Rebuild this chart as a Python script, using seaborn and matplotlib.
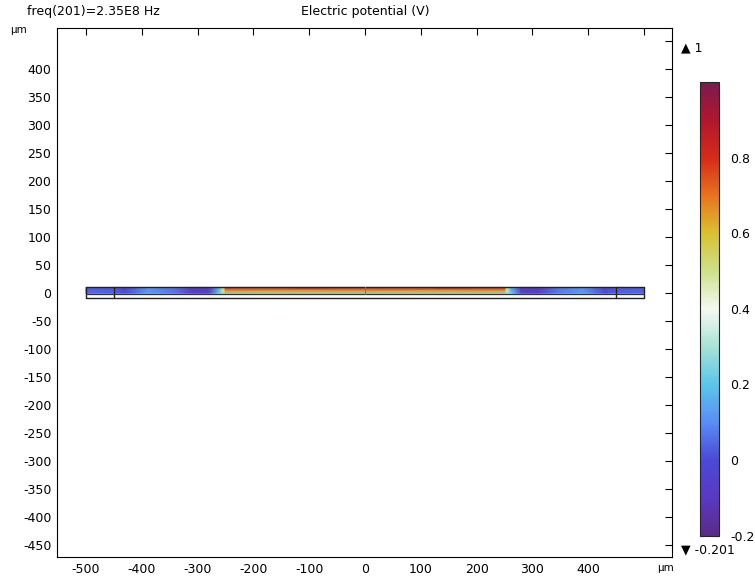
"""
Electric potential in a thin layer, COMSOL-like 2D surface plot
"""

import matplotlib
matplotlib.use("Agg")
import matplotlib.pyplot as plt
import seaborn as sns
import numpy as np

sns.set_style("white")
plt.rcParams['font.family'] = ['DejaVu Sans']
plt.rcParams['font.size'] = 9
plt.rcParams['text.color'] = 'black'
plt.rcParams['xtick.color'] = 'black'
plt.rcParams['ytick.color'] = 'black'

# Data
x_cols = [-500, -450, -430, -390, -345, -310, -280, -262, -254, -250,
          0, 250, 254, 262, 280, 310, 345, 390, 430, 450, 500]
pot_top = [0.03, 0.02, -0.02, 0.11, 0.06, -0.08, -0.09, 0.15, 0.55, 0.86,
           0.86, 0.86, 0.55, 0.15, -0.09, -0.08, 0.06, 0.11, -0.02, 0.02, 0.03]
pot_mid = [0.04, 0.03, 0.0, 0.12, 0.07, -0.07, -0.06, 0.18, 0.45, 0.64,
           0.64, 0.64, 0.45, 0.18, -0.06, -0.07, 0.07, 0.12, 0.0, 0.03, 0.04]
pot_bottom = [0.05, 0.04, 0.01, 0.13, 0.08, -0.05, -0.03, 0.22, 0.26, 0.24,
              0.24, 0.24, 0.26, 0.22, -0.03, -0.05, 0.08, 0.13, 0.01, 0.04, 0.05]
layer_y = [-1, 4.5, 10]      # potential layer (um): bottom, middle, top
substrate_y = [-8, -1]       # lower layer, no data (um)
x_bounds = [-500, 500]
inner_lines = [-450, 450]

cmin, cmax = -0.201, 1.0
cbar_ticks = [-0.2, 0, 0.2, 0.4, 0.6, 0.8]
x_ticks = list(range(-500, 501, 100))
y_ticks = list(range(-450, 451, 50))

# COMSOL-ish rainbow light colormap
cmap = sns.blend_palette(
    ['#5b2a88', '#5a39c2', '#4a4ad8', '#5a8cf6', '#5cc6ea', '#a6e3d6',
     '#f5f9f2', '#cde08a', '#d8c232', '#e8741e', '#d42c19', '#b1172c', '#7b1a4e'],
    as_cmap=True)

fig = plt.figure(figsize=(7.55, 5.80), dpi=100)
ax = fig.add_axes([57 / 755, 1 - 557 / 580, 615 / 755, 529 / 580])

X, Y = np.meshgrid(x_cols, layer_y)
C = np.array([pot_bottom, pot_mid, pot_top])
mesh = ax.pcolormesh(X, Y, C, shading='gouraud', cmap=cmap, vmin=cmin, vmax=cmax)

# geometry outlines
ax.fill_between(x_bounds, substrate_y[0], substrate_y[1], color='white', zorder=2)
ax.plot([x_bounds[0], x_bounds[1], x_bounds[1], x_bounds[0], x_bounds[0]],
        [substrate_y[0], substrate_y[0], layer_y[-1], layer_y[-1], substrate_y[0]],
        color='#222222', lw=1.0, zorder=3)
ax.plot(x_bounds, [substrate_y[1]] * 2, color='#333333', lw=0.9, zorder=3)
for xv in inner_lines:
    ax.plot([xv, xv], [substrate_y[0], layer_y[-1]], color='#222222', lw=1.0, zorder=3)
ax.plot([0, 0], [layer_y[0], layer_y[-1]], color='#777777', lw=0.8, zorder=3)

ax.set_xlim(-552, 550)
ax.set_ylim(-471, 473)
ax.set_xticks(x_ticks)
ax.set_xticklabels([str(v) if v != 500 else '' for v in x_ticks])
ax.set_yticks(y_ticks)
ax.set_yticklabels([str(v) if v != 450 else '' for v in y_ticks])
ax.tick_params(direction='in', length=5, width=0.8, top=True, right=True,
               labelsize=9, colors='black', pad=4)
for s in ax.spines.values():
    s.set_color('black')
    s.set_linewidth(0.8)

# colorbar
cax = fig.add_axes([700 / 755, 1 - 536 / 580, 19 / 755, 454 / 580])
cb = fig.colorbar(mesh, cax=cax)
cb.set_ticks(cbar_ticks)
cb.set_ticklabels(['-0.2', '0', '0.2', '0.4', '0.6', '0.8'])
cax.tick_params(direction='in', length=3, width=0.8, left=True, right=True,
                labelsize=9, pad=8, colors='black')
cb.outline.set_linewidth(0.8)

# annotations
fig.text(27 / 755, 1 - 12 / 580, 'freq(201)=2.35E8 Hz', ha='left', va='center', fontsize=9)
fig.text(365 / 755, 1 - 12 / 580, 'Electric potential (V)', ha='center', va='center', fontsize=9)
fig.text(10 / 755, 1 - 30 / 580, 'µm', ha='left', va='center', fontsize=7.5)
fig.text(657 / 755, 1 - 568 / 580, 'µm', ha='left', va='center', fontsize=7.5)
fig.text(681 / 755, 1 - 48 / 580, '▲ 1', ha='left', va='center', fontsize=9)
fig.text(681 / 755, 1 - 550 / 580, '▼ -0.201', ha='left', va='center', fontsize=9)

plt.savefig('out.png', dpi=100)
plt.close()
